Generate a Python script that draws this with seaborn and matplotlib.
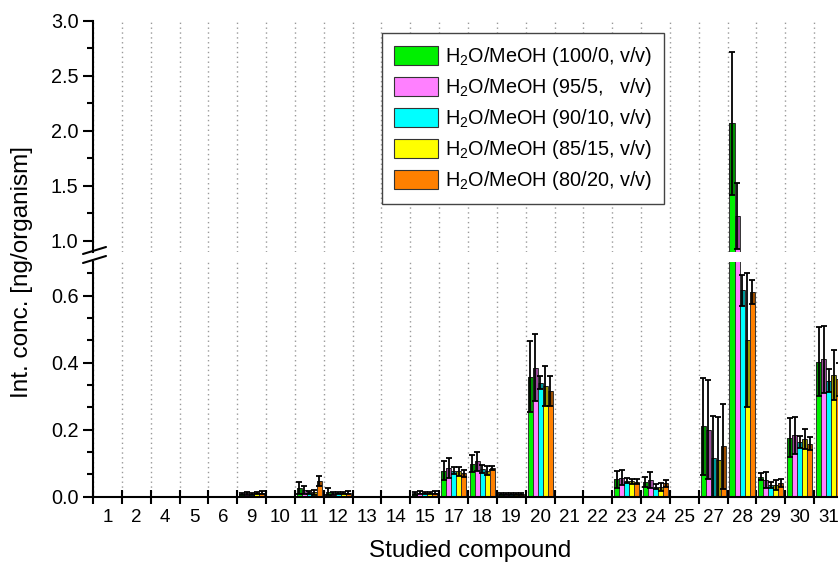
import numpy as np
import pandas as pd
import matplotlib
matplotlib.use("Agg")
import matplotlib.pyplot as plt
import seaborn as sns
from matplotlib.lines import Line2D
from matplotlib.patches import Patch
from matplotlib.ticker import AutoMinorLocator, FormatStrFormatter

# ---------------- data ----------------
compounds = ['1', '2', '4', '5', '6', '9', '10', '11', '12', '13', '14', '15', '17',
             '18', '19', '20', '21', '22', '23', '24', '25', '27', '28', '29', '30', '31']

series = ['H$_2$O/MeOH (100/0, v/v)',
          'H$_2$O/MeOH (95/5,   v/v)',
          'H$_2$O/MeOH (90/10, v/v)',
          'H$_2$O/MeOH (85/15, v/v)',
          'H$_2$O/MeOH (80/20, v/v)']

colors = ['#00F000', '#FF80FF', '#00FFFF', '#FFFF00', '#FF8000']

#                 1  2  4  5  6   9      10  11     12     13 14  15     17     18     19     20     21 22  23     24     25  27     28     29     30     31
val_100_0 = [0, 0, 0, 0, 0, 0.008, 0, 0.025, 0.015, 0, 0, 0.010, 0.078, 0.099, 0.008, 0.358, 0, 0, 0.052, 0.045, 0, 0.210, 2.070, 0.060, 0.176, 0.403]
err_100_0 = [0, 0, 0, 0, 0, 0.004, 0, 0.018, 0.010, 0, 0, 0.004, 0.027, 0.025, 0.003, 0.105, 0, 0, 0.025, 0.015, 0, 0.145, 0.650, 0.010, 0.058, 0.103]
val_95_5 = [0, 0, 0, 0, 0, 0.010, 0, 0.020, 0.010, 0, 0, 0.012, 0.086, 0.105, 0.008, 0.385, 0, 0, 0.057, 0.050, 0, 0.200, 1.227, 0.050, 0.183, 0.410]
err_95_5 = [0, 0, 0, 0, 0, 0.004, 0, 0.012, 0.005, 0, 0, 0.004, 0.030, 0.029, 0.003, 0.100, 0, 0, 0.023, 0.024, 0, 0.148, 0.300, 0.025, 0.055, 0.100]
val_90_10 = [0, 0, 0, 0, 0, 0.009, 0, 0.013, 0.010, 0, 0, 0.010, 0.078, 0.082, 0.007, 0.340, 0, 0, 0.048, 0.030, 0, 0.116, 0.616, 0.035, 0.163, 0.346]
err_90_10 = [0, 0, 0, 0, 0, 0.003, 0, 0.005, 0.003, 0, 0, 0.003, 0.010, 0.012, 0.003, 0.020, 0, 0, 0.008, 0.008, 0, 0.125, 0.046, 0.010, 0.018, 0.035]
val_85_15 = [0, 0, 0, 0, 0, 0.011, 0, 0.013, 0.011, 0, 0, 0.011, 0.076, 0.078, 0.008, 0.330, 0, 0, 0.046, 0.028, 0, 0.110, 0.467, 0.035, 0.172, 0.363]
err_85_15 = [0, 0, 0, 0, 0, 0.004, 0, 0.008, 0.003, 0, 0, 0.004, 0.013, 0.014, 0.003, 0.060, 0, 0, 0.008, 0.012, 0, 0.127, 0.200, 0.015, 0.030, 0.075]
val_80_20 = [0, 0, 0, 0, 0, 0.012, 0, 0.047, 0.012, 0, 0, 0.012, 0.070, 0.086, 0.009, 0.315, 0, 0, 0.045, 0.040, 0, 0.150, 0.610, 0.042, 0.158, 0.350]
err_80_20 = [0, 0, 0, 0, 0, 0.004, 0, 0.015, 0.004, 0, 0, 0.004, 0.011, 0.005, 0.003, 0.045, 0, 0, 0.008, 0.010, 0, 0.127, 0.035, 0.012, 0.020, 0.050]

values = [val_100_0, val_95_5, val_90_10, val_85_15, val_80_20]
errors = [err_100_0, err_95_5, err_90_10, err_85_15, err_80_20]

y_low_ticks = [0.0, 0.2, 0.4, 0.6]
y_up_ticks = [1.0, 1.5, 2.0, 2.5, 3.0]

rows = []
for s, vals, errs in zip(series, values, errors):
    for c, v, e in zip(compounds, vals, errs):
        rows.append({'compound': c, 'solvent': s, 'value': v, 'err': e})
df = pd.DataFrame(rows)

# ---------------- style ----------------
sns.set_style("white")
plt.rcParams['font.family'] = ['Liberation Sans', 'DejaVu Sans']
plt.rcParams['mathtext.default'] = 'regular'
plt.rcParams['axes.linewidth'] = 1.5
for k in ('text.color', 'axes.labelcolor', 'xtick.color', 'ytick.color', 'axes.edgecolor'):
    plt.rcParams[k] = 'black'

W, H = 838, 567
fig = plt.figure(figsize=(W / 100, H / 100), dpi=100)

left = 93 / W
width = 750 / W
ax_low = fig.add_axes([left, (H - 496.7) / H, width, (496.7 - 262) / H])
ax_up = fig.add_axes([left, (H - 252) / H, width, (252 - 20.7) / H])

n = len(compounds)
bar_w = 0.87

for ax in (ax_low, ax_up):
    sns.barplot(data=df, x='compound', y='value', hue='solvent', order=compounds,
                hue_order=series, palette=colors, saturation=1, width=bar_w,
                errorbar=None, edgecolor='#333333', linewidth=0.7, legend=False,
                ax=ax, zorder=2)
    patches = list(ax.patches)
    for j, (vals, errs) in enumerate(zip(values, errors)):
        bars = patches[j * n:(j + 1) * n]
        xs = np.array([b.get_x() + b.get_width() / 2 for b in bars])
        bw = bars[0].get_width()
        v = np.array(vals)
        e = np.array(errs)
        m = v > 0
        e_in = np.minimum(e, v)
        ax.bar(xs[m], e_in[m], bottom=(v - e_in)[m], width=bw, color='black',
               alpha=0.4, linewidth=0, zorder=3)
        ax.errorbar(xs[m], v[m], yerr=e[m], fmt='none', ecolor='black',
                    elinewidth=1.3, capsize=2, capthick=1.3, zorder=4)
    ax.set_xlim(-0.5, n - 0.5)
    ax.set_xlabel('')
    ax.set_ylabel('')
    ax.set_xticks(np.arange(-0.5, n, 1.0), minor=True)
    ax.grid(False)
    ax.grid(True, which='minor', axis='x', color='#999999',
            linestyle=(0, (1, 2.5)), linewidth=1.0, zorder=0)
    ax.set_axisbelow(True)
    for s in ('top', 'right'):
        ax.spines[s].set_visible(False)
    ax.spines['left'].set_color('black')
    ax.spines['left'].set_linewidth(1.5)
    ax.yaxis.set_major_formatter(FormatStrFormatter('%.1f'))
    ax.tick_params(axis='y', which='major', direction='out', length=7, width=1.5,
                   labelsize=14.3, pad=3.5, left=True, color='black')
    ax.tick_params(axis='y', which='minor', direction='out', length=4.5, width=1.5,
                   left=True, color='black')

# lower axis
ax_low.set_ylim(0, 0.7)
ax_low.set_yticks(y_low_ticks)
ax_low.yaxis.set_minor_locator(AutoMinorLocator(3))
ax_low.spines['bottom'].set_color('black')
ax_low.spines['bottom'].set_linewidth(1.5)
ax_low.set_xticks(range(n))
ax_low.set_xticklabels(compounds)
ax_low.tick_params(axis='x', which='major', length=0, pad=9, labelsize=13.5)
ax_low.tick_params(axis='x', which='minor', direction='inout', length=10,
                   width=1.5, bottom=True, color='black')

# upper axis
ax_up.set_ylim(0.9, 3.0)
ax_up.set_yticks(y_up_ticks)
ax_up.yaxis.set_minor_locator(AutoMinorLocator(2))
ax_up.spines['bottom'].set_visible(False)
ax_up.tick_params(axis='x', which='both', bottom=False, labelbottom=False)

# legend
handles = [Patch(facecolor=c, edgecolor='#333333', linewidth=0.8) for c in colors]
leg = ax_up.legend(handles, series, loc='upper left',
                   bbox_to_anchor=(381.7 / W, 1 - 33.3 / H),
                   bbox_transform=fig.transFigure, borderaxespad=0,
                   fontsize=14.3, handlelength=2.25, handleheight=1.1,
                   handletextpad=0.35, labelspacing=0.4, borderpad=0.6,
                   frameon=True, fancybox=False, shadow=False, framealpha=1)
leg.get_frame().set_edgecolor('#444444')
leg.get_frame().set_linewidth(1.0)
leg.set_zorder(10)

# axis labels
fig.text(22 / W, (H - 272) / H, 'Int. conc. [ng/organism]', rotation=90,
         ha='center', va='center', fontsize=17.5)
fig.text(470 / W, 1 - 551 / H, 'Studied compound', ha='center', va='center',
         fontsize=17.5)

# axis break marks
for (x0, y0, x1, y1) in [(83, 254, 106, 247), (83, 263, 106, 256)]:
    fig.add_artist(Line2D([x0 / W, x1 / W], [1 - y0 / H, 1 - y1 / H],
                          transform=fig.transFigure, color='black', linewidth=1.5))

fig.savefig('out.png', dpi=100)
